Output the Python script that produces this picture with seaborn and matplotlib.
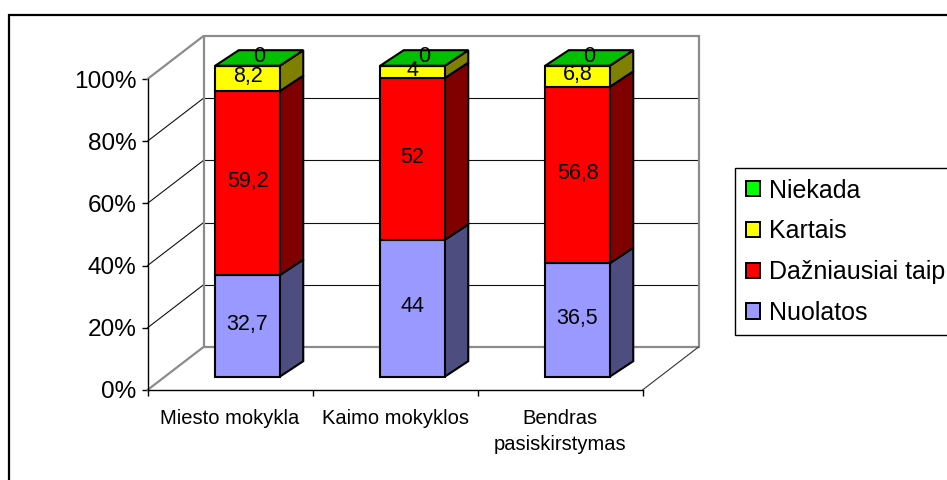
import numpy as np
import matplotlib
matplotlib.use("Agg")
import matplotlib.pyplot as plt
from matplotlib.patches import Polygon, Rectangle
from matplotlib.transforms import Affine2D
import seaborn as sns

categories = ["Miesto mokykla", "Kaimo mokyklos", "Bendras\npasiskirstymas"]
nuolatos = [32.7, 44, 36.5]
dazniausiai = [59.2, 52, 56.8]
kartais = [8.2, 4, 6.8]
niekada = [0, 0, 0]
value_labels = [["32,7", "44", "36,5"], ["59,2", "52", "56,8"], ["8,2", "4", "6,8"], ["0", "0", "0"]]
series_names = ["Nuolatos", "Dažniausiai taip", "Kartais", "Niekada"]
front_colors = ["#9999FF", "#FF0000", "#FFFF00", "#00FF00"]
side_colors = ["#4D4D80", "#800000", "#808000", "#008000"]
top_color = "#00C000"
y_ticks = [0, 20, 40, 60, 80, 100]

sns.set_theme(style="white")
plt.rcParams["font.family"] = ["Liberation Sans", "DejaVu Sans"]

W, H = 947, 480
fig = plt.figure(figsize=(W / 100, H / 100), dpi=100, facecolor="white")
L, R, T, B = 147.5, 642.5, 79, 390
ax = fig.add_axes([L / W, (H - B) / H, (R - L) / W, (B - T) / H])
ax.patch.set_alpha(0)

# outer chart frame (runs off the right and bottom of the picture)
fig.patches.append(Rectangle((9 / W, -0.1), 1.2, 1.1 - 15 / H, transform=fig.transFigure,
                             fill=False, edgecolor="black", linewidth=1.6, clip_on=True))

# normalise to 100 %
table = np.array([nuolatos, dazniausiai, kartais, niekada], dtype=float)
pct = table / table.sum(axis=0) * 100
bottoms = np.vstack([np.zeros(3), np.cumsum(pct, axis=0)[:-1]])

x_pos = np.arange(len(categories))
bar_w = 64.5 / 165
EDGE = 1.5
for i, name in enumerate(series_names):
    sns.barplot(x=categories, y=pct[i], bottom=bottoms[i], color=front_colors[i], saturation=1,
                width=bar_w, edgecolor="black", linewidth=EDGE, ax=ax, zorder=5, errorbar=None)

ax.set_xlim(-0.5, 2.5)
ax.set_ylim(0, 100)

# pixel <-> data helpers for the oblique projection
PX, PY = 3 / (R - L), 100 / (B - T)
wall_dx, wall_dy = 56 * PX, 43 * PY
bar_tf = ax.transData + Affine2D().translate(17.5, 13.3)
label_tf = ax.transData + Affine2D().translate(17.5, 14.8)
dep_dx, dep_dy = 23.5 * PX, 15.5 * PY

for p in ax.patches:
    p.set_transform(bar_tf)
    p.set_clip_on(False)

# walls and floor
grey = "#8C8C8C"
for v in y_ticks:
    is_top = v == 100
    is_floor = v == 0
    col = grey if (is_top or is_floor) else "#111111"
    lw = 1.6 if (is_top or is_floor) else 0.8
    ax.plot([-0.5 + wall_dx, 2.5 + wall_dx], [v + wall_dy, v + wall_dy], color=col, lw=lw, clip_on=False, zorder=1)
    ax.plot([-0.5, -0.5 + wall_dx], [v, v + wall_dy], color=col, lw=lw, clip_on=False, zorder=1)
ax.plot([-0.5 + wall_dx] * 2, [wall_dy, 100 + wall_dy], color=grey, lw=1.6, clip_on=False, zorder=1)
ax.plot([2.5 + wall_dx] * 2, [wall_dy, 100 + wall_dy], color=grey, lw=1.6, clip_on=False, zorder=1)
ax.plot([2.5, 2.5 + wall_dx], [0, wall_dy], color="#333333", lw=0.8, clip_on=False, zorder=1)

# side and top faces of the bars
for i in range(len(series_names)):
    for j, x0 in enumerate(x_pos):
        xr = x0 + bar_w / 2
        y0, y1 = bottoms[i][j], bottoms[i][j] + pct[i][j]
        ax.add_patch(Polygon([(xr, y0), (xr + dep_dx, y0 + dep_dy), (xr + dep_dx, y1 + dep_dy), (xr, y1)],
                             closed=True, facecolor=side_colors[i], edgecolor="black", linewidth=EDGE,
                             transform=bar_tf, clip_on=False, zorder=4))
for j, x0 in enumerate(x_pos):
    xl, xr = x0 - bar_w / 2, x0 + bar_w / 2
    ax.add_patch(Polygon([(xl, 100), (xr, 100), (xr + dep_dx, 100 + dep_dy), (xl + dep_dx, 100 + dep_dy)],
                         closed=True, facecolor=top_color, edgecolor="black", linewidth=EDGE,
                         transform=bar_tf, clip_on=False, zorder=6))

# value labels
for i in range(len(series_names)):
    for j, x0 in enumerate(x_pos):
        xc, yc = x0, bottoms[i][j] + pct[i][j] / 2
        if pct[i][j] == 0:
            xc += dep_dx / 2
            yc += dep_dy / 2
        ax.text(xc, yc, value_labels[i][j], transform=label_tf, ha="center", va="center",
                fontsize=15.5, color="black", zorder=8, clip_on=False)

# axes
sns.despine(ax=ax, top=True, right=True)
for s in ("left", "bottom"):
    ax.spines[s].set_color("black")
    ax.spines[s].set_linewidth(1.0)
ax.set_yticks(y_ticks, [f"{v}%" for v in y_ticks])
ax.tick_params(axis="y", left=True, length=4.3, width=1, color="black", labelsize=17.6, labelcolor="black", pad=3.5)
ax.set_xticks(x_pos, categories)
ax.set_xticks([-0.5, 0.5, 1.5, 2.5], minor=True)
ax.tick_params(axis="x", which="major", bottom=False, labelsize=14.5, labelcolor="black", pad=7.5)
ax.tick_params(axis="x", which="minor", bottom=True, length=4.3, width=1, color="black")
for t in ax.get_xticklabels():
    t.set_linespacing(1.5)
ax.set_xlabel("")
ax.set_ylabel("")
ax.grid(False)

# legend
handles = [Rectangle((0, 0), 1, 1, facecolor=front_colors[i], edgecolor="black", linewidth=1.4)
           for i in (3, 2, 1, 0)]
labels = [series_names[i] for i in (3, 2, 1, 0)]
fig.legend(handles, labels, loc="upper left", bbox_to_anchor=(735 / W, 1 - 168 / H), borderaxespad=0,
           fontsize=18, frameon=True, fancybox=False, framealpha=1, edgecolor="black", facecolor="white",
           handlelength=0.56, handleheight=0.56, handletextpad=0.36, labelspacing=0.67, borderpad=0.42,
           labelcolor="black")

fig.savefig("out.png", dpi=100)
